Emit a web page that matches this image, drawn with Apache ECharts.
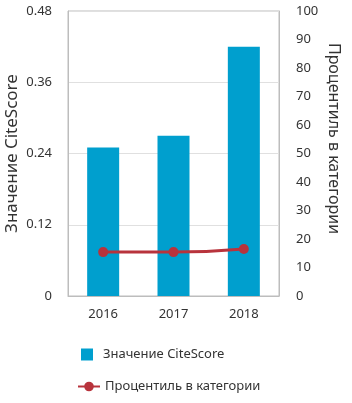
<!DOCTYPE html>
<html>
<head>
<meta charset="utf-8">
<script src="https://cdn.jsdelivr.net/npm/echarts@6/dist/echarts.min.js"></script>
<style>
  html, body { margin: 0; padding: 0; background: #fff; }
  #chart { width: 352px; height: 403px; }
</style>
</head>
<body>
<div id="chart"></div>
<script>
// данные графика
const years = ['2016', '2017', '2018'];
const citeScore = [0.25, 0.27, 0.42];
const percentile = [15.4, 15.4, 16.5];
const leftTicks = { min: 0, max: 0.48, step: 0.12 };
const rightTicks = { min: 0, max: 100, step: 10 };

const chart = echarts.init(document.getElementById('chart'));
const font = 'Noto Sans, sans-serif';

let option = {
    textStyle: { fontFamily: font },
    grid: {
        left: 68,
        right: 73,
        top: 11,
        bottom: 107,
        containLabel: false,
        outerBoundsMode: 'none',
        show: true,
        borderColor: '#bdbdbd',
        borderWidth: 1
    },
    legend: [{
        data: ['Значение CiteScore'],
        orient: 'vertical',
        left: 76,
        top: 343,
        itemWidth: 12,
        itemHeight: 12,
        icon: 'rect',
        textStyle: { fontFamily: font, fontSize: 13, color: '#333', padding: [0, 0, 0, 5] }
    }, {
        data: ['Процентиль в категории'],
        orient: 'vertical',
        left: 72,
        top: 375,
        itemWidth: 22,
        itemHeight: 12,
        textStyle: { fontFamily: font, fontSize: 13, color: '#333' }
    }],
    xAxis: {
        type: 'category',
        data: years,
        axisTick: { show: false },
        axisLine: { lineStyle: { color: '#bdbdbd' } },
        axisLabel: { color: '#333', fontSize: 13, margin: 12, fontFamily: font }
    },
    yAxis: [{
        type: 'value',
        min: leftTicks.min,
        max: leftTicks.max,
        interval: leftTicks.step,
        name: 'Значение CiteScore',
        nameLocation: 'middle',
        nameMoveOverlap: false,
        nameGap: 47,
        nameTextStyle: { fontSize: 17, color: '#333', fontFamily: font },
        axisLine: { show: true, lineStyle: { color: '#bdbdbd' } },
        axisTick: { show: false },
        axisLabel: { color: '#333', fontSize: 13, margin: 16, fontFamily: font },
        splitLine: { lineStyle: { color: '#e0e0e0' } }
    }, {
        type: 'value',
        min: rightTicks.min,
        max: rightTicks.max,
        interval: rightTicks.step,
        position: 'right',
        name: 'Процентиль в категории',
        nameLocation: 'middle',
        nameMoveOverlap: false,
        nameRotate: -90,
        nameGap: 47,
        nameTextStyle: { fontSize: 16, color: '#333', fontFamily: font, padding: [0, 30, 0, 0] },
        axisLine: { show: true, lineStyle: { color: '#bdbdbd' } },
        axisTick: { show: false },
        axisLabel: { color: '#333', fontSize: 13, margin: 17, fontFamily: font },
        splitLine: { show: false }
    }],
    series: [{
        name: 'Значение CiteScore',
        type: 'bar',
        data: citeScore,
        barWidth: 32,
        itemStyle: { color: '#009fce' }
    }, {
        name: 'Процентиль в категории',
        type: 'line',
        yAxisIndex: 1,
        data: percentile,
        smooth: true,
        symbol: 'circle',
        symbolSize: 10,
        lineStyle: { width: 3, color: '#b8333c' },
        itemStyle: { color: '#b8333c' }
    }]
};

chart.setOption(option);
</script>
</body>
</html>
